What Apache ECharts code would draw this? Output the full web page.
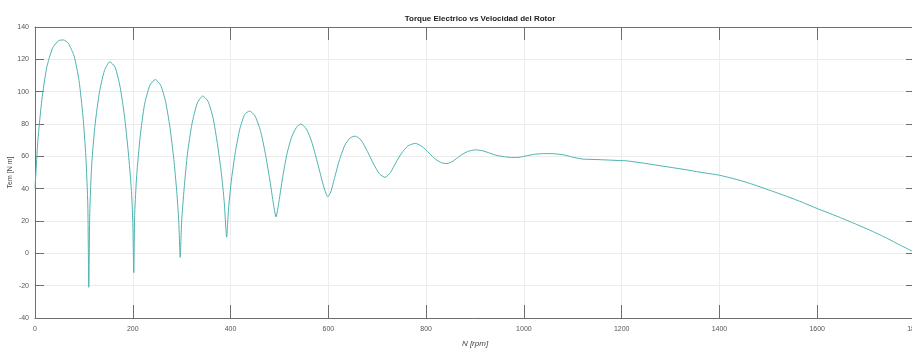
<!DOCTYPE html>
<html>
<head>
<meta charset="utf-8">
<script src="https://cdn.jsdelivr.net/npm/echarts@6/dist/echarts.min.js"></script>
<style>
  html, body { margin: 0; padding: 0; background: #fff; }
  #chart { width: 912px; height: 355px; }
</style>
</head>
<body>
<div id="chart"></div>
<script>
// ===== 数据 =====
const titleText = 'Torque Electrico vs Velocidad del Rotor';
const xName = 'N [rpm]';
const yName = 'Tem [N m]';

// 转速 N [rpm]
const speed = [
    0, 6, 14, 24, 36, 48, 58, 68, 80, 90, 98, 104, 108, 110,
    112, 116, 123, 132, 142, 153, 164, 174, 183, 191, 197, 200, 202,
    204, 208, 215, 224, 235, 246, 257, 267, 276, 284, 290, 294, 297,
    300, 305, 312, 321, 332, 343, 354, 364, 373, 381, 387, 392,
    396, 402, 410, 419, 429, 439, 450, 461, 471, 480, 487, 493,
    499, 506, 515, 525, 535, 544, 555, 566, 577, 588, 594, 599,
    605, 613, 623, 634, 645, 655, 667, 680, 693, 705, 716, 727,
    738, 750, 763, 778, 792, 806, 820, 832, 843, 855,
    870, 885, 900, 915, 930, 945, 960, 975, 990, 1005, 1020, 1040, 1060, 1080,
    1100, 1120, 1150, 1180, 1210, 1240, 1270, 1300, 1330, 1360, 1400, 1440, 1470,
    1500, 1540, 1570, 1600, 1640, 1675, 1710, 1743, 1770, 1800
];

// 电磁转矩 Tem [N m]
const torque = [
    40, 70, 95, 115, 127, 131.5, 132, 130, 122, 107, 85, 60, 30, -21,
    25, 55, 80, 100, 113, 118.5, 115, 103, 85, 62, 40, 20, -12,
    25, 48, 72, 92, 104, 107.5, 104, 94, 78, 58, 38, 20, -2.5,
    20, 40, 62, 80, 93, 97.3, 94, 84, 68, 50, 32, 10,
    28, 46, 63, 77, 86, 88, 85, 76, 62, 46, 32, 22.5,
    32, 46, 61, 72, 78, 80, 77, 69, 57, 44, 38, 35,
    38, 47, 58, 67, 71.5, 72.5, 70, 63, 55, 49, 47, 50,
    56, 62, 66.5, 68, 66, 62, 58, 56, 55.5, 57,
    60.5, 63, 64, 63.5, 62, 60.5, 59.8, 59.3, 59.4, 60.3, 61.2, 61.7, 61.6, 61,
    59.5, 58.3, 58, 57.6, 57.2, 56, 54.6, 53.2, 51.8, 50.2, 48.3, 45.3, 42.5,
    39.3, 35, 31.5, 27.7, 23, 18.6, 14, 9.3, 5, 0.5
];

const xTicks = { min: 0, max: 1800, interval: 200 };
const yTicks = { min: -40, max: 140, interval: 20 };

// ===== 绘图 =====
const chart = echarts.init(document.getElementById('chart'));
const fontFam = '"Liberation Sans Narrow", "Liberation Sans", Arial, sans-serif';
const axisColor = '#6e6e6e';

const option = {
    animation: false,
    backgroundColor: '#fff',
    title: {
        text: titleText,
        left: 475,
        top: 10,
        textAlign: 'center',
        textStyle: { fontSize: 8, fontWeight: 'bold', color: '#222', fontFamily: fontFam }
    },
    grid: { left: 35, right: -3, top: 27, bottom: 37, outerBoundsMode: 'none', containLabel: false },
    xAxis: [
        {
            type: 'value', position: 'bottom',
            min: xTicks.min, max: xTicks.max, interval: xTicks.interval,
            name: xName, nameLocation: 'middle', nameGap: 22, nameMoveOverlap: false,
            nameTextStyle: { fontSize: 8, color: '#444', fontFamily: fontFam, fontStyle: 'italic' },
            axisLine: { show: true, onZero: false, lineStyle: { color: axisColor, width: 1 } },
            axisTick: { show: true, inside: true, length: 13, lineStyle: { color: axisColor } },
            axisLabel: { fontSize: 7, color: '#555', margin: 8, fontFamily: fontFam, formatter: v => String(v) },
            splitLine: { show: true, lineStyle: { color: '#ececec', width: 1 } }
        },
        {
            type: 'value', position: 'top',
            min: xTicks.min, max: xTicks.max, interval: xTicks.interval,
            axisLine: { show: true, onZero: false, lineStyle: { color: axisColor, width: 1 } },
            axisTick: { show: true, inside: true, length: 13, lineStyle: { color: axisColor } },
            axisLabel: { show: false },
            splitLine: { show: false }
        }
    ],
    yAxis: [
        {
            type: 'value', position: 'left',
            min: yTicks.min, max: yTicks.max, interval: yTicks.interval,
            name: yName, nameLocation: 'middle', nameGap: 21, nameMoveOverlap: false,
            nameTextStyle: { fontSize: 7, color: '#444', fontFamily: fontFam },
            axisLine: { show: true, onZero: false, lineStyle: { color: axisColor, width: 1 } },
            axisTick: { show: true, inside: true, length: 9, lineStyle: { color: axisColor } },
            axisLabel: { fontSize: 7, color: '#555', margin: 6, fontFamily: fontFam },
            splitLine: { show: true, lineStyle: { color: '#ececec', width: 1 } }
        },
        {
            type: 'value', position: 'right',
            min: yTicks.min, max: yTicks.max, interval: yTicks.interval,
            axisLine: { show: true, onZero: false, lineStyle: { color: axisColor, width: 1 } },
            axisTick: { show: true, inside: true, length: 9, lineStyle: { color: axisColor } },
            axisLabel: { show: false },
            splitLine: { show: false }
        }
    ],
    series: [{
        type: 'line',
        data: speed.map((n, i) => [n, torque[i]]),
        showSymbol: false,
        smooth: 0.2,
        clip: true,
        lineStyle: { color: '#4db3b0', width: 1 }
    }]
};

chart.setOption(option);
</script>
</body>
</html>
